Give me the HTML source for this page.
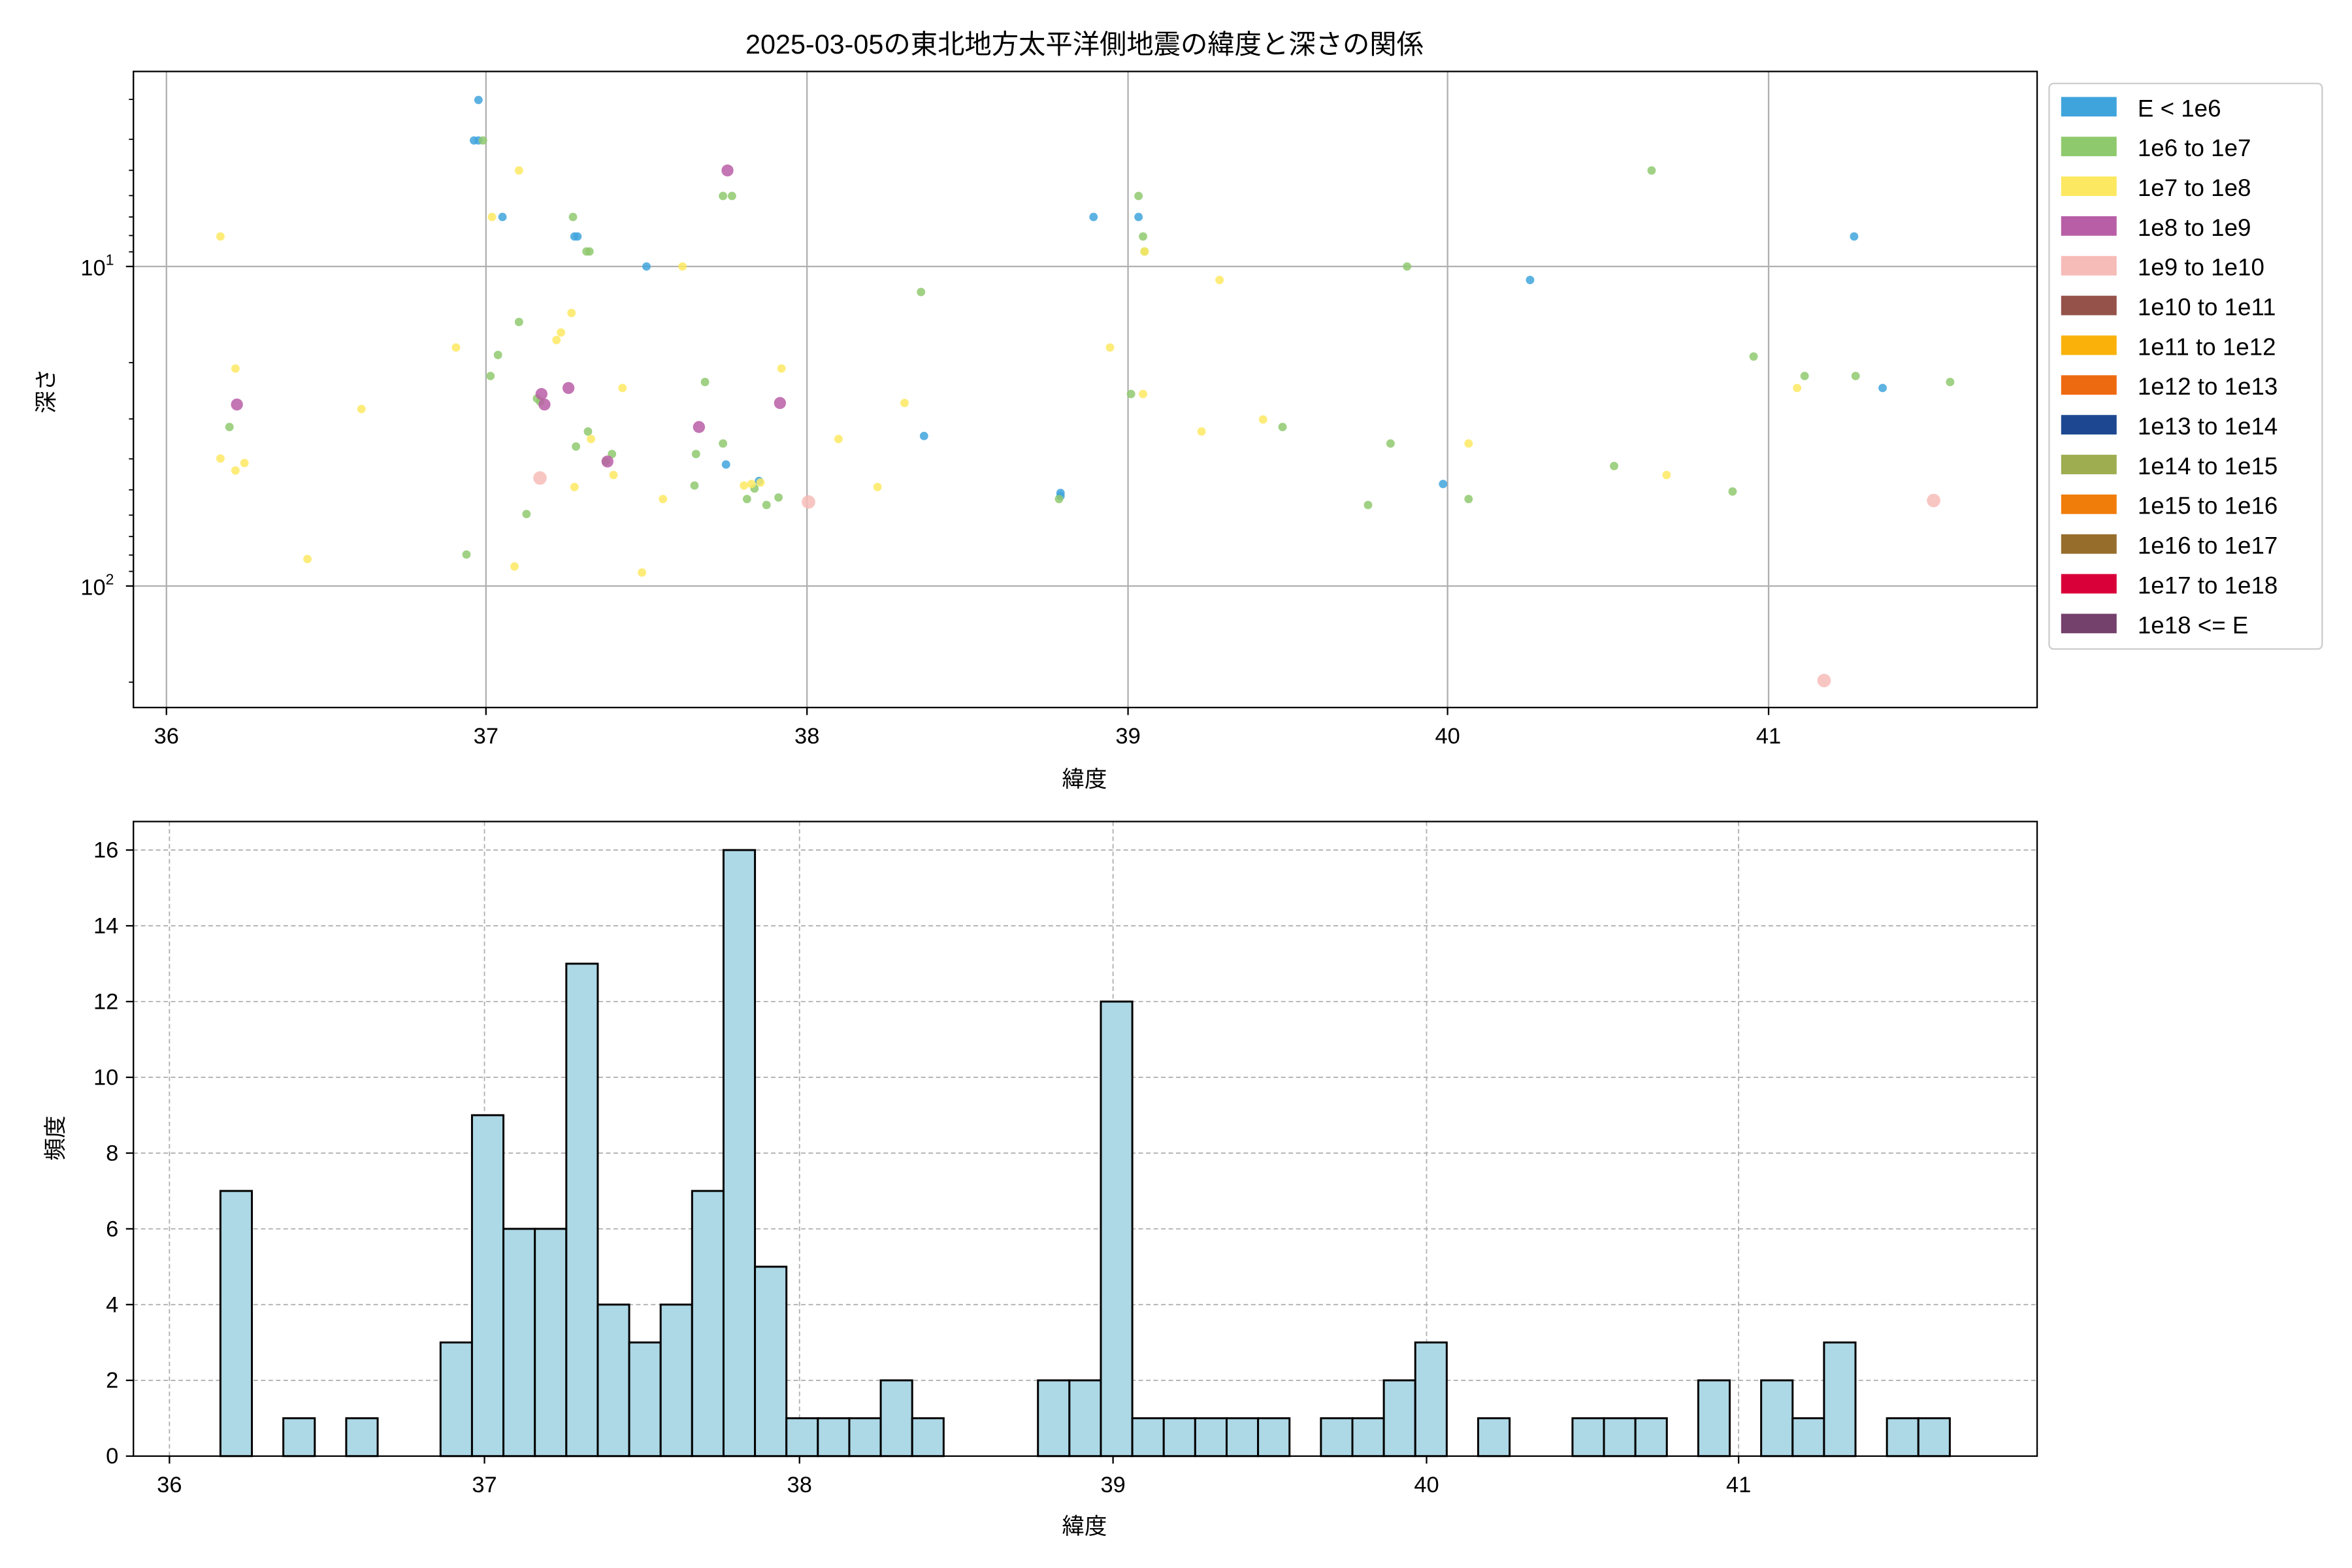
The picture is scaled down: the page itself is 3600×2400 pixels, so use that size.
<!DOCTYPE html>
<html><head><meta charset="utf-8"><style>
html,body{margin:0;padding:0;background:#fff}
svg{display:block}
text{font-family:"Liberation Sans","Noto Sans CJK JP",sans-serif;fill:#000}
</style></head><body>
<svg id="s" xmlns="http://www.w3.org/2000/svg" width="3600" height="2400" viewBox="0 0 1560 1040">
<rect width="1560" height="1040" fill="#fff"/>
<g transform="translate(88.5,47.4) scale(0.995) translate(-89,-47)">
<text x="723" y="35" font-size="18" text-anchor="middle">2025-03-05の東北地方太平洋側地震の緯度と深さの関係</text>
<g id="gtop"></g>
<g id="gbot"></g>
</g>
</svg>
<script>
(function(){
const NS="http://www.w3.org/2000/svg";
function el(p,t,a,txt){const e=document.createElementNS(NS,t);for(const k in a)e.setAttribute(k,a[k]);if(txt!==undefined)e.textContent=txt;p.appendChild(e);return e;}
const gt=document.getElementById('gtop'),gb=document.getElementById('gbot');
const tx=[111,324,538,752,965,1179];
tx.forEach((x,i)=>{el(gt,'line',{x1:x,x2:x,y1:47,y2:471,stroke:'#b0b0b0','stroke-width':1});
 el(gt,'line',{x1:x,x2:x,y1:471,y2:476,stroke:'#000'});
 el(gt,'text',{x:x,y:495,'font-size':15,'text-anchor':'middle'},String(36+i));});
[177,390].forEach((y,i)=>{el(gt,'line',{x1:89,x2:1358,y1:y,y2:y,stroke:'#b0b0b0'});
 el(gt,'line',{x1:84,x2:89,y1:y,y2:y,stroke:'#000'});
 const t=el(gt,'text',{x:76,y:y+6,'font-size':15,'text-anchor':'end'},'10');
 el(t,'tspan',{dy:-7,'font-size':10},String(i+1));});
[3,4,5,6,7,8,9,20,30,40,50,60,70,80,90,200].forEach(d=>{const y=177+213*Math.log10(d/10);
 el(gt,'line',{x1:86,x2:89,y1:y,y2:y,stroke:'#000','stroke-width':0.8});});
const C={b:'#3fa4dc',g:'#8fc96e',y:'#fde961',p:'#b85ea6',k:'#f6bcb8'};
const pts={
b:[[319,66],[316,93],[319,93],[335,144],[383,157],[385,157],[431,177],[484,309],[506,320],[707,328],[707,330],[729,144],[759,144],[1020,186],[962,322],[1236,157],[1255,258],[616,290]],
g:[[322,93],[382,144],[391,167],[393,167],[346,214],[332,236],[327,250],[358,265],[384,297],[392,287],[408,302],[404,307],[351,342],[311,369],[470,254],[464,302],[463,323],[482,295],[482,130],[488,130],[498,332],[503,325],[511,336],[519,331],[614,194],[706,332],[759,130],[762,157],[763,167],[754,262],[855,284],[912,336],[927,295],[938,177],[979,332],[1076,310],[1101,113],[1155,327],[1169,237],[1203,250],[1237,250],[1300,254],[153,284],[360,267]],
y:[[147,157],[157,245],[147,305],[157,313],[163,308],[205,372],[241,272],[304,231],[328,144],[346,113],[343,377],[381,208],[371,226],[374,221],[383,324],[394,292],[409,316],[415,258],[428,381],[442,332],[455,177],[496,323],[501,322],[507,321],[521,245],[559,292],[585,324],[603,268],[740,231],[763,167],[762,262],[801,287],[813,186],[842,279],[979,295],[1111,316],[1198,258]],
p:[[158,269],[361,262],[363,269],[379,258],[405,307],[466,284],[485,113],[520,268]],
k:[[360,318],[539,334],[1289,333],[1216,453]]};
const rad={b:2.8,g:2.8,y:2.8,p:4,k:4.5};
for(const c in pts)pts[c].forEach(p=>el(gt,'circle',{cx:p[0],cy:p[1],r:rad[c],fill:C[c],'fill-opacity':0.85}));
el(gt,'rect',{x:89,y:47,width:1269,height:424,fill:'none',stroke:'#000','stroke-width':1});
el(gt,'text',{x:723,y:524,'font-size':15,'text-anchor':'middle'},'緯度');
el(gt,'text',{x:36,y:260,'font-size':15,'text-anchor':'middle',transform:'rotate(-90 36 260)'},'深さ');
el(gt,'rect',{x:1366,y:55,width:182,height:377,fill:'#fff',stroke:'#ccc',rx:3});
const L=[['E < 1e6','#3fa4dc'],['1e6 to 1e7','#8fc96e'],['1e7 to 1e8','#fde961'],['1e8 to 1e9','#b85ea6'],['1e9 to 1e10','#f6bcb8'],['1e10 to 1e11','#95524a'],['1e11 to 1e12','#fab20b'],['1e12 to 1e13','#ee6a10'],['1e13 to 1e14','#1d4891'],['1e14 to 1e15','#9ead4f'],['1e15 to 1e16','#f07d0a'],['1e16 to 1e17','#966d2b'],['1e17 to 1e18','#d9003a'],['1e18 <= E','#74406c']];
L.forEach((l,i)=>{const y=71+i*26.5;el(gt,'rect',{x:1374,y:y-7,width:37,height:13,fill:l[1]});
 el(gt,'text',{x:1425,y:y+6,'font-size':16},l[0]);});
const bx=[113,323,533,742,951,1159];
bx.forEach((x,i)=>{el(gb,'line',{x1:x,x2:x,y1:547,y2:970,stroke:'#b0b0b0','stroke-dasharray':'3,2','stroke-width':0.8});
 el(gb,'line',{x1:x,x2:x,y1:970,y2:975,stroke:'#000'});
 el(gb,'text',{x:x,y:994,'font-size':15,'text-anchor':'middle'},String(36+i));});
for(let v=0;v<=16;v+=2){const y=970-v*25.25;
 if(v>0)el(gb,'line',{x1:89,x2:1358,y1:y,y2:y,stroke:'#b0b0b0','stroke-dasharray':'3,2','stroke-width':0.8});
 el(gb,'line',{x1:84,x2:89,y1:y,y2:y,stroke:'#000'});
 el(gb,'text',{x:79,y:y+5,'font-size':15,'text-anchor':'end'},String(v));}
const bars={0:7,2:1,4:1,7:3,8:9,9:6,10:6,11:13,12:4,13:3,14:4,15:7,16:16,17:5,18:1,19:1,20:1,21:2,22:1,26:2,27:2,28:12,29:1,30:1,31:1,32:1,33:1,35:1,36:1,37:2,38:3,40:1,43:1,44:1,45:1,47:2,49:2,50:1,51:3,53:1,54:1};
for(const k in bars){const x=147+k*20.96,h=bars[k]*25.25;
 el(gb,'rect',{x:x,y:970-h,width:20.96,height:h,fill:'#add8e6',stroke:'#000','stroke-width':1.3});}
el(gb,'rect',{x:89,y:547,width:1269,height:423,fill:'none',stroke:'#000','stroke-width':1});
el(gb,'text',{x:723,y:1022,'font-size':15,'text-anchor':'middle'},'緯度');
el(gb,'text',{x:42,y:758,'font-size':15,'text-anchor':'middle',transform:'rotate(-90 42 758)'},'頻度');
})();
</script>
</body></html>
